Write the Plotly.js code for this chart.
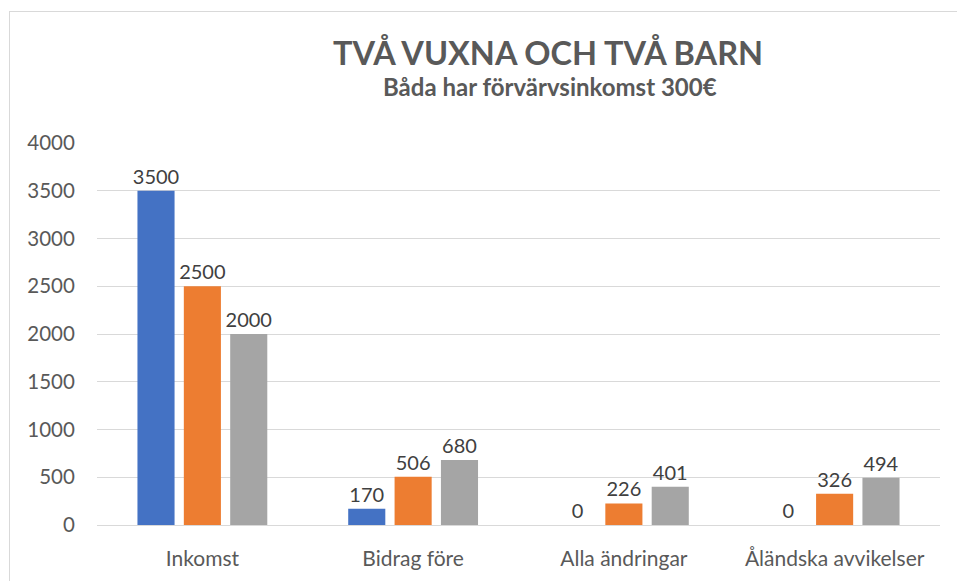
<!DOCTYPE html>
<html>
<head>
<meta charset="utf-8">
<script src="https://cdn.plot.ly/plotly-3.0.1.min.js"></script>
<style>
html,body{margin:0;padding:0;background:#fff;overflow:hidden;}
#frame{position:absolute;left:9px;top:11px;width:960px;height:580px;border:1px solid #d9d9d9;box-sizing:border-box;}
#chart{position:absolute;left:0;top:0;width:957px;height:581px;}
</style>
</head>
<body>
<div id="frame"></div>
<div id="chart"></div>
<script>
const categories = ["Inkomst", "Bidrag före", "Alla ändringar", "Åländska avvikelser"];
const series1 = [3500, 170, 0, 0];
const series2 = [2500, 506, 226, 326];
const series3 = [2000, 680, 401, 494];
const colors = ["#4472C4", "#ED7D31", "#A5A5A5"];
const yTicks = [0, 500, 1000, 1500, 2000, 2500, 3000, 3500, 4000];
const titleText = "TVÅ VUXNA OCH TVÅ BARN";
const subtitleText = "Båda har förvärvsinkomst 300€";

const font = "Lato, 'Open Sans', 'Liberation Sans', sans-serif";
const mk = (vals, c) => ({
  type: "bar", x: categories, y: vals,
  marker: {color: c},
  text: vals.map(String), textposition: "outside", constraintext: "none",
  textfont: {family: font, size: 20, color: "#404040"},
  cliponaxis: false, hoverinfo: "none"
});
const data = [mk(series1, colors[0]), mk(series2, colors[1]), mk(series3, colors[2])];
const layout = {
  width: 957, height: 581,
  margin: {l: 97, r: 17, t: 143, b: 56},
  paper_bgcolor: "rgba(0,0,0,0)", plot_bgcolor: "rgba(0,0,0,0)",
  showlegend: false,
  barmode: "group", bargap: 0.34, bargroupgap: 0.2,
  font: {family: font, color: "#595959"},
  xaxis: {
    type: "category", showgrid: false, showline: true, linecolor: "#d9d9d9", linewidth: 1,
    tickfont: {size: 21, color: "#595959"}, ticks: "outside", ticklen: 15, tickcolor: "rgba(0,0,0,0)"
  },
  yaxis: {
    range: [0, 4000], tickvals: yTicks, ticktext: yTicks.map(String),
    showgrid: true, gridcolor: "#d9d9d9", gridwidth: 1, zeroline: false, showline: false,
    tickfont: {size: 20.5, color: "#595959"}, ticks: "outside", ticklen: 17, tickcolor: "rgba(0,0,0,0)"
  },
  annotations: [
    {text: "<b>" + titleText + "</b>", xref: "paper", yref: "paper", x: 0.535, y: 1.238,
     xanchor: "center", yanchor: "middle", showarrow: false,
     font: {family: font, size: 32.5, color: "#595959"}},
    {text: "<b>" + subtitleText + "</b>", xref: "paper", yref: "paper", x: 0.537, y: 1.148,
     xanchor: "center", yanchor: "middle", showarrow: false,
     font: {family: font, size: 24, color: "#595959"}}
  ]
};
Plotly.newPlot("chart", data, layout, {staticPlot: true});
</script>
</body>
</html>
